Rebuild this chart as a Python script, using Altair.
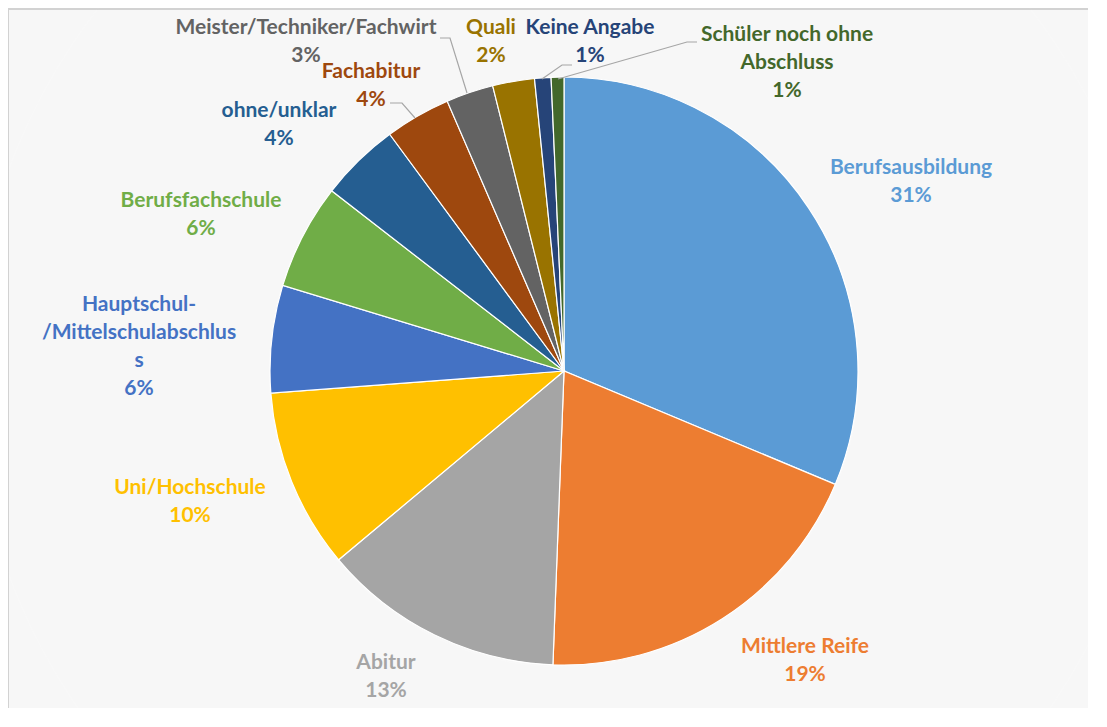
import altair as alt
import pandas as pd

# ---- data ----
categories = [
    "Berufsausbildung", "Mittlere Reife", "Abitur", "Uni/Hochschule",
    "Hauptschul-/Mittelschulabschluss", "Berufsfachschule", "ohne/unklar",
    "Fachabitur", "Meister/Techniker/Fachwirt", "Quali", "Keine Angabe",
    "Schüler noch ohne Abschluss",
]
shares = [31.3, 19.3, 13.3, 9.9, 5.9, 5.8, 4.4, 3.6, 2.6, 2.3, 0.9, 0.7]
colors = [
    "#5B9BD5", "#ED7D31", "#A5A5A5", "#FFC000", "#4472C4", "#70AD47",
    "#255E91", "#9E480E", "#636363", "#997300", "#264478", "#43682B",
]
# label text lines as they are wrapped in the picture
label_lines = [
    ["Berufsausbildung"], ["Mittlere Reife"], ["Abitur"], ["Uni/Hochschule"],
    ["Hauptschul-", "/Mittelschulabschlus", "s"], ["Berufsfachschule"], ["ohne/unklar"],
    ["Fachabitur"], ["Meister/Techniker/Fachwirt"], ["Quali"], ["Keine Angabe"],
    ["Schüler noch ohne", "Abschluss"],
]

# ---- layout (pixels in the plot area) ----
CX, CY, R = 556, 363, 294
LINE_H = 28
W, H = 1080, 700
label_anchor = [  # centre of the first text line
    (903, 160), (797, 639), (378, 655), (182, 480), (131, 297), (193, 193),
    (271, 103), (363, 64), (298, 20), (483, 20), (582, 20), (779, 27),
]
leaders = [  # (category index, [(x, y), ...])
    (8, [(432, 30), (442, 30), (459, 85)]),
    (7, [(382, 95), (394, 95), (407, 110)]),
    (10, [(534, 71), (554, 57), (564, 57)]),
    (11, [(550, 71), (679, 34), (689, 34)]),
]

pie_df = pd.DataFrame({
    "cat": categories, "share": shares, "idx": list(range(len(categories)))
})

rows = []
for i, (lines, (ax, ay)) in enumerate(zip(label_lines, label_anchor)):
    all_lines = lines + [f"{round(shares[i])}%"]
    for j, t in enumerate(all_lines):
        rows.append({"text": t, "x": ax, "y": ay + j * LINE_H, "cat": categories[i]})
lab_df = pd.DataFrame(rows)

lrows = []
for k, (ci, pts) in enumerate(leaders):
    for j, (px, py) in enumerate(pts):
        lrows.append({"g": k, "o": j, "x": px, "y": py})
lead_df = pd.DataFrame(lrows)

shadow_df = pd.DataFrame({"r": [R + 1, R + 2, R + 3, R + 4, R + 5, R + 6, R + 7]})
frame_df = pd.DataFrame({"x": [0, 0], "y": [1, 1], "x2": [0, W], "y2": [H, 1]})

color_scale = alt.Scale(domain=categories, range=colors)

shadow = alt.Chart(shadow_df).mark_arc(color="#000000", opacity=0.03).encode(
    theta=alt.value(0), theta2=alt.value(6.2832),
    radius=alt.Radius("r:Q", scale=None),
    x=alt.value(CX), y=alt.value(CY + 1),
)

pie = alt.Chart(pie_df).mark_arc(
    outerRadius=R, stroke="white", strokeWidth=1.2
).encode(
    theta=alt.Theta("share:Q", stack=True),
    order=alt.Order("idx:Q"),
    color=alt.Color("cat:N", scale=color_scale, legend=None),
    x=alt.value(CX), y=alt.value(CY),
)

lead = alt.Chart(lead_df).mark_line(color="#A6A6A6", strokeWidth=1.2).encode(
    x=alt.X("x:Q", scale=None), y=alt.Y("y:Q", scale=None),
    detail="g:N", order="o:Q",
)

labels = alt.Chart(lab_df).mark_text(
    font="Lato", fontWeight="bold", fontSize=21, align="center", baseline="middle"
).encode(
    x=alt.X("x:Q", scale=None), y=alt.Y("y:Q", scale=None),
    text="text:N",
    color=alt.Color("cat:N", scale=color_scale, legend=None),
)

frame = alt.Chart(frame_df).mark_rule(color="#D9D9D9", strokeWidth=2).encode(
    x=alt.X("x:Q", scale=None), y=alt.Y("y:Q", scale=None),
    x2="x2:Q", y2="y2:Q",
)

chart = alt.layer(frame, shadow, pie, lead, labels).properties(
    width=W, height=H, padding=0, autosize=alt.AutoSizeParams(type="none")
).configure_view(stroke=None)

chart.save("out.html", embed_options={"renderer": "svg", "actions": False})
